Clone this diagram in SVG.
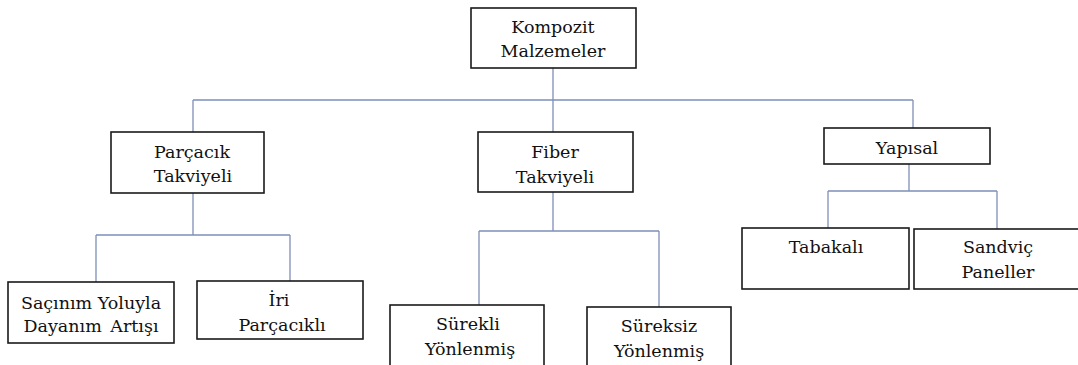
<svg xmlns="http://www.w3.org/2000/svg" width="1078" height="365" viewBox="0 0 1078 365">
<style>
.box{fill:#fff;stroke:#1a1a1a;stroke-width:1.6}
.c{fill:none;stroke:#7f8fb8;stroke-width:1.3}
text{font-family:"DejaVu Serif",serif;font-size:17.5px;fill:#111;text-anchor:middle}
</style>
<rect width="1078" height="365" fill="#fff"/>
<g id="connectors">
<path class="c" d="M553 68V100M193 100H913M193 100V132M553 100V132M913 100V128"/>
<path class="c" d="M193 193V235M96 235H290M96 235V282M290 235V281"/>
<path class="c" d="M553 192V231M479 231H659M479 231V305M659 231V307"/>
<path class="c" d="M909 164V191M828 191H997M828 191V228M997 191V229"/>
</g>
<g id="n-kompozit"><rect class="box" x="471" y="8" width="165" height="60"/><text x="553" y="33">Kompozit</text><text x="553" y="57">Malzemeler</text></g>
<g id="n-parcacik"><rect class="box" x="111" y="132" width="153" height="61"/><text x="192" y="158">Parçacık</text><text x="193" y="182">Takviyeli</text></g>
<g id="n-fiber"><rect class="box" x="478" y="132" width="155" height="60"/><text x="555" y="158">Fiber</text><text x="555" y="183">Takviyeli</text></g>
<g id="n-yapisal"><rect class="box" x="824" y="128" width="166" height="36"/><text x="907" y="154">Yapısal</text></g>
<g id="n-sacinim"><rect class="box" x="8" y="282" width="166" height="61"/><text x="91" y="309">Saçınım Yoluyla</text><text x="91" y="332" word-spacing="3">Dayanım Artışı</text></g>
<g id="n-iri"><rect class="box" x="197" y="281" width="166" height="58"/><text x="279" y="306">İri</text><text x="282" y="331">Parçacıklı</text></g>
<g id="n-surekli"><rect class="box" x="390" y="305" width="154" height="70"/><text x="468" y="330">Sürekli</text><text x="470" y="355">Yönlenmiş</text></g>
<g id="n-sureksiz"><rect class="box" x="587" y="307" width="144" height="70"/><text x="659" y="332">Süreksiz</text><text x="659" y="357">Yönlenmiş</text></g>
<g id="n-tabakali"><rect class="box" x="742" y="228" width="167" height="61"/><text x="826" y="253">Tabakalı</text></g>
<g id="n-sandvic"><rect class="box" x="914" y="229" width="168" height="60"/><text x="998" y="253">Sandviç</text><text x="998" y="278">Paneller</text></g>
</svg>
